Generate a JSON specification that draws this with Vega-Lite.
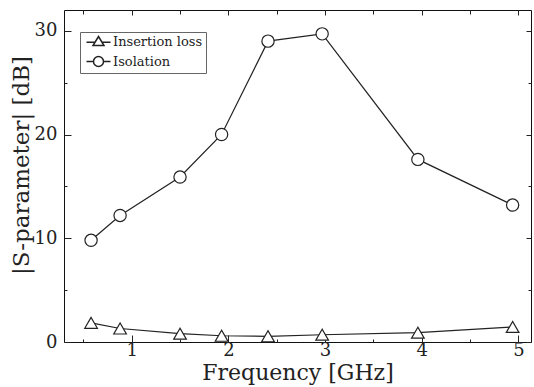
{
  "$schema": "https://vega.github.io/schema/vega-lite/v6.json",
  "width": 467,
  "height": 332,
  "autosize": "none",
  "padding": {"left": 64, "top": 10, "right": 3, "bottom": 45},
  "background": "white",
  "config": {
    "view": {"stroke": "#111", "strokeWidth": 1},
    "axis": {
      "labelFont": "DejaVu Serif",
      "titleFont": "DejaVu Serif",
      "labelColor": "#222",
      "titleColor": "#222",
      "titleFontWeight": "normal",
      "tickColor": "#222",
      "tickWidth": 1,
      "domain": false,
      "grid": false
    },
    "legend": {
      "labelFont": "DejaVu Serif",
      "labelFontSize": 13,
      "labelColor": "#222"
    }
  },
  "data": {
    "values": [
      {"f": 0.58, "v": 9.8, "s": "Isolation"},
      {"f": 0.88, "v": 12.2, "s": "Isolation"},
      {"f": 1.5, "v": 15.9, "s": "Isolation"},
      {"f": 1.93, "v": 20.0, "s": "Isolation"},
      {"f": 2.41, "v": 29.0, "s": "Isolation"},
      {"f": 2.97, "v": 29.7, "s": "Isolation"},
      {"f": 3.96, "v": 17.6, "s": "Isolation"},
      {"f": 4.94, "v": 13.2, "s": "Isolation"},
      {"f": 0.58, "v": 1.85, "s": "Insertion loss"},
      {"f": 0.88, "v": 1.3, "s": "Insertion loss"},
      {"f": 1.5, "v": 0.8, "s": "Insertion loss"},
      {"f": 1.93, "v": 0.6, "s": "Insertion loss"},
      {"f": 2.41, "v": 0.55, "s": "Insertion loss"},
      {"f": 2.97, "v": 0.7, "s": "Insertion loss"},
      {"f": 3.96, "v": 0.9, "s": "Insertion loss"},
      {"f": 4.94, "v": 1.45, "s": "Insertion loss"}
    ]
  },
  "resolve": {"axis": {"x": "independent", "y": "independent"}},
  "layer": [
    {
      "mark": {"type": "line", "stroke": "#222", "strokeWidth": 1.2},
      "encoding": {
        "x": {"field": "f", "type": "quantitative", "scale": {"domain": [0.3, 5.13], "nice": false, "zero": false},
          "axis": {"orient": "bottom", "values": [1, 2, 3, 4, 5], "tickSize": -7, "labelPadding": 6, "labelFontSize": 18, "labelBaseline": "top", "title": "Frequency [GHz]", "titleFontSize": 22, "titleBaseline": "alphabetic", "titleY": 37}},
        "y": {"field": "v", "type": "quantitative", "scale": {"domain": [0, 32], "nice": false},
          "axis": {"orient": "left", "values": [0, 10, 20, 30], "tickSize": -7, "labelPadding": 14, "labelFontSize": 18, "title": "|S-parameter| [dB]", "titleFontSize": 23, "titleBaseline": "alphabetic", "titleAlign": "center", "titleAngle": -90, "titleX": -36, "titleY": 155}},
        "detail": {"field": "s"}
      }
    },
    {
      "transform": [{"filter": "datum.s === 'Insertion loss'"}],
      "mark": {"type": "point", "shape": "triangle-up", "filled": true, "fill": "white", "stroke": "#222", "strokeWidth": 1.2, "size": 160, "opacity": 1},
      "encoding": {
        "x": {"field": "f", "type": "quantitative",
          "axis": {"orient": "bottom", "values": [0.5, 1.5, 2.5, 3.5, 4.5], "tickSize": -3, "labels": false, "title": null}},
        "y": {"field": "v", "type": "quantitative",
          "axis": {"orient": "left", "values": [5, 15, 25], "tickSize": -3, "labels": false, "title": null}}
      }
    },
    {
      "transform": [{"filter": "datum.s === 'Isolation'"}],
      "mark": {"type": "point", "shape": "circle", "filled": true, "fill": "white", "stroke": "#222", "strokeWidth": 1.2, "size": 150, "opacity": 1},
      "encoding": {
        "x": {"field": "f", "type": "quantitative",
          "axis": {"orient": "top", "values": [1, 2, 3, 4, 5], "tickSize": -5, "labels": false, "title": null}},
        "y": {"field": "v", "type": "quantitative",
          "axis": {"orient": "right", "values": [0, 10, 20, 30], "tickSize": -5, "labels": false, "title": null}}
      }
    },
    {
      "transform": [{"filter": "datum.v < 0"}],
      "mark": {"type": "point", "filled": true, "fill": "white", "stroke": "#222", "strokeWidth": 1.2, "size": 100, "opacity": 1},
      "encoding": {
        "x": {"field": "f", "type": "quantitative",
          "axis": {"orient": "top", "values": [0.5, 1.5, 2.5, 3.5, 4.5], "tickSize": -4, "labels": false, "title": null}},
        "y": {"field": "v", "type": "quantitative",
          "axis": {"orient": "right", "values": [5, 15, 25], "tickSize": -3, "labels": false, "title": null}},
        "shape": {"field": "s", "type": "nominal",
          "scale": {"domain": ["Insertion loss", "Isolation"],
            "range": ["M-0.6,0.15H1.1M2.5,0.15H4.2M1.8,-1L2.9,0.8L0.7,0.8Z", "M-0.6,0H0.8M2.8,0H4.2M2.8,0A1,1,0,1,1,0.8,0A1,1,0,1,1,2.8,0Z"]},
          "legend": {
            "title": null, "orient": "none", "legendX": 16, "legendY": 22,
            "strokeColor": "#666", "fillColor": "white", "padding": 3,
            "symbolSize": 100, "symbolOpacity": 1, "labelOffset": 17,
            "rowPadding": 4
          }}
      }
    }
  ]
}
